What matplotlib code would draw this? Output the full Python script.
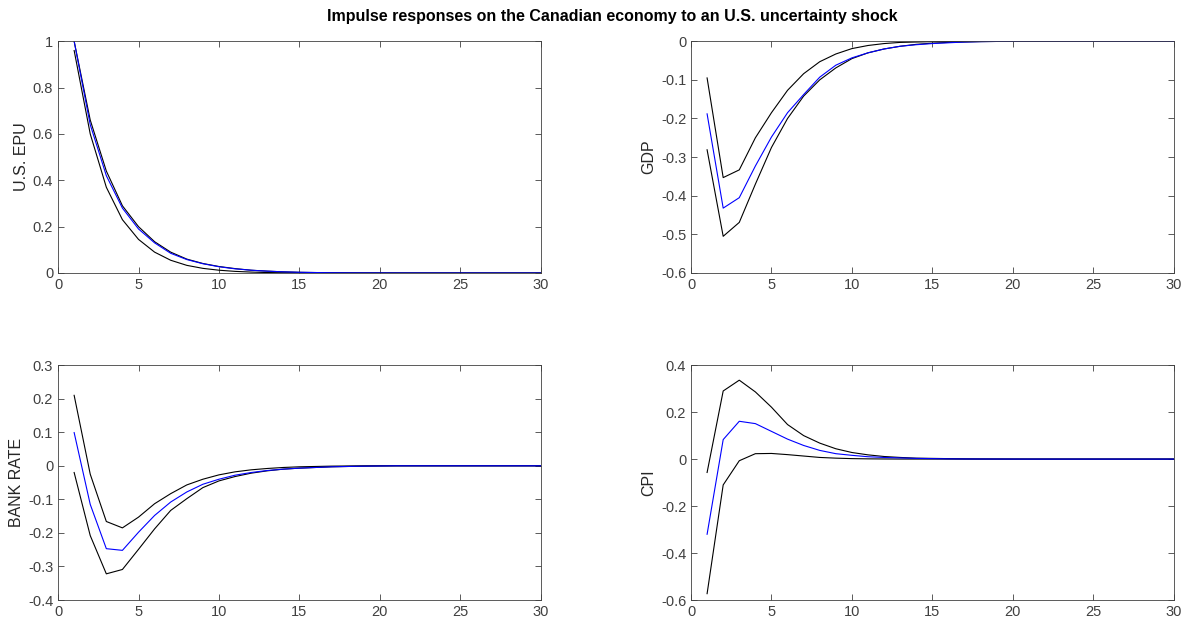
import matplotlib
matplotlib.use("Agg")
import matplotlib.pyplot as plt
from matplotlib.ticker import FormatStrFormatter, MultipleLocator

plt.rcParams['font.family'] = ['Liberation Sans', 'DejaVu Sans']
plt.rcParams['axes.unicode_minus'] = False

# -----------------------------
# Data (horizons 1..30)
# -----------------------------
horizon = list(range(1, 31))

epu_mid = [1.0, 0.64, 0.42, 0.28, 0.19, 0.13, 0.085, 0.058, 0.04, 0.027,
           0.018, 0.012, 0.008, 0.005, 0.003, 0.002, 0.001, 0.0005, 0.0003, 0.0002] + [0.0] * 10
epu_up = [1.0, 0.66, 0.44, 0.29, 0.20, 0.135, 0.09, 0.06, 0.041, 0.028,
          0.019, 0.012, 0.008, 0.005, 0.003, 0.002, 0.001, 0.0005, 0.0003, 0.0002] + [0.0] * 10
epu_lo = [0.96, 0.60, 0.37, 0.23, 0.145, 0.09, 0.055, 0.033, 0.02, 0.012,
          0.007, 0.004, 0.002, 0.001, 0.0005, 0.0003, 0.0002, 0.0001, 0.0, 0.0] + [0.0] * 10

gdp_mid = [-0.188, -0.432, -0.405, -0.323, -0.248, -0.185, -0.138, -0.093, -0.062, -0.043,
           -0.03, -0.02, -0.013, -0.009, -0.006, -0.004, -0.002, -0.001, -0.0005, -0.0002] + [0.0] * 10
gdp_up = [-0.095, -0.353, -0.333, -0.25, -0.185, -0.127, -0.084, -0.053, -0.033, -0.019,
          -0.011, -0.006, -0.003, -0.002, -0.001, -0.0005, -0.0002, 0.0, 0.0, 0.0] + [0.0] * 10
gdp_lo = [-0.281, -0.505, -0.469, -0.37, -0.275, -0.2, -0.142, -0.1, -0.069, -0.045,
          -0.03, -0.02, -0.013, -0.008, -0.005, -0.003, -0.002, -0.001, -0.0005, -0.0002] + [0.0] * 10

rate_mid = [0.099, -0.115, -0.247, -0.252, -0.198, -0.148, -0.108, -0.078, -0.055, -0.04,
            -0.028, -0.02, -0.014, -0.01, -0.007, -0.005, -0.003, -0.002, -0.001, -0.0005] + [0.0] * 10
rate_up = [0.21, -0.025, -0.166, -0.185, -0.153, -0.113, -0.083, -0.057, -0.04, -0.027,
           -0.018, -0.012, -0.008, -0.005, -0.003, -0.002, -0.001, -0.0005, -0.0002, 0.0] + [0.0] * 10
rate_lo = [-0.02, -0.208, -0.322, -0.309, -0.249, -0.188, -0.133, -0.098, -0.065, -0.045,
           -0.032, -0.022, -0.015, -0.01, -0.007, -0.005, -0.003, -0.002, -0.001, -0.0005] + [0.0] * 10

cpi_mid = [-0.32, 0.083, 0.161, 0.151, 0.118, 0.085, 0.058, 0.037, 0.023, 0.016,
           0.01, 0.007, 0.005, 0.003, 0.002, 0.001, 0.0005, 0.0003, 0.0002, 0.0001] + [0.0] * 10
cpi_up = [-0.057, 0.29, 0.336, 0.286, 0.221, 0.147, 0.1, 0.068, 0.044, 0.028,
          0.018, 0.011, 0.007, 0.004, 0.003, 0.002, 0.001, 0.0005, 0.0003, 0.0001] + [0.0] * 10
cpi_lo = [-0.573, -0.11, -0.007, 0.023, 0.024, 0.019, 0.013, 0.007, 0.004, 0.002,
          0.001, 0.0005, 0.0002, 0.0001, 0.0, 0.0, 0.0, 0.0, 0.0, 0.0] + [0.0] * 10

panels = [
    ("U.S. EPU", epu_mid, epu_up, epu_lo, (0, 1), 0.2),
    ("GDP", gdp_mid, gdp_up, gdp_lo, (-0.6, 0), 0.1),
    ("BANK RATE", rate_mid, rate_up, rate_lo, (-0.4, 0.3), 0.1),
    ("CPI", cpi_mid, cpi_up, cpi_lo, (-0.6, 0.4), 0.2),
]

# axes rectangles in figure fractions
rects = [
    [0.0487, 0.5618, 0.405, 0.372],
    [0.5797, 0.5618, 0.405, 0.372],
    [0.0487, 0.0369, 0.405, 0.377],
    [0.5797, 0.0369, 0.405, 0.377],
]

fig = plt.figure(figsize=(11.92, 6.23), dpi=100)
edge = '#404040'

for rect, (name, mid, up, lo, ylim, step) in zip(rects, panels):
    ax = fig.add_axes(rect)
    ax.plot(horizon, up, color='black', lw=0.8)
    ax.plot(horizon, lo, color='black', lw=0.8)
    ax.plot(horizon, mid, color='blue', lw=0.8)
    ax.set_xlim(0, 30)
    ax.set_ylim(*ylim)
    ax.xaxis.set_major_locator(MultipleLocator(5))
    ax.yaxis.set_major_locator(MultipleLocator(step))
    ax.yaxis.set_major_formatter(FormatStrFormatter('%g'))
    ax.set_ylabel(name, fontsize=11.5, color='#262626', labelpad=3)
    ax.tick_params(direction='in', top=True, right=True, length=4,
                   width=0.6, colors=edge, labelsize=10.5)
    for s in ax.spines.values():
        s.set_color(edge)
        s.set_linewidth(0.6)

fig.suptitle("Impulse responses on the Canadian economy to an U.S. uncertainty shock",
             fontsize=11.5, fontweight='bold', x=0.514, y=0.985)

fig.savefig("out.png", dpi=100)
